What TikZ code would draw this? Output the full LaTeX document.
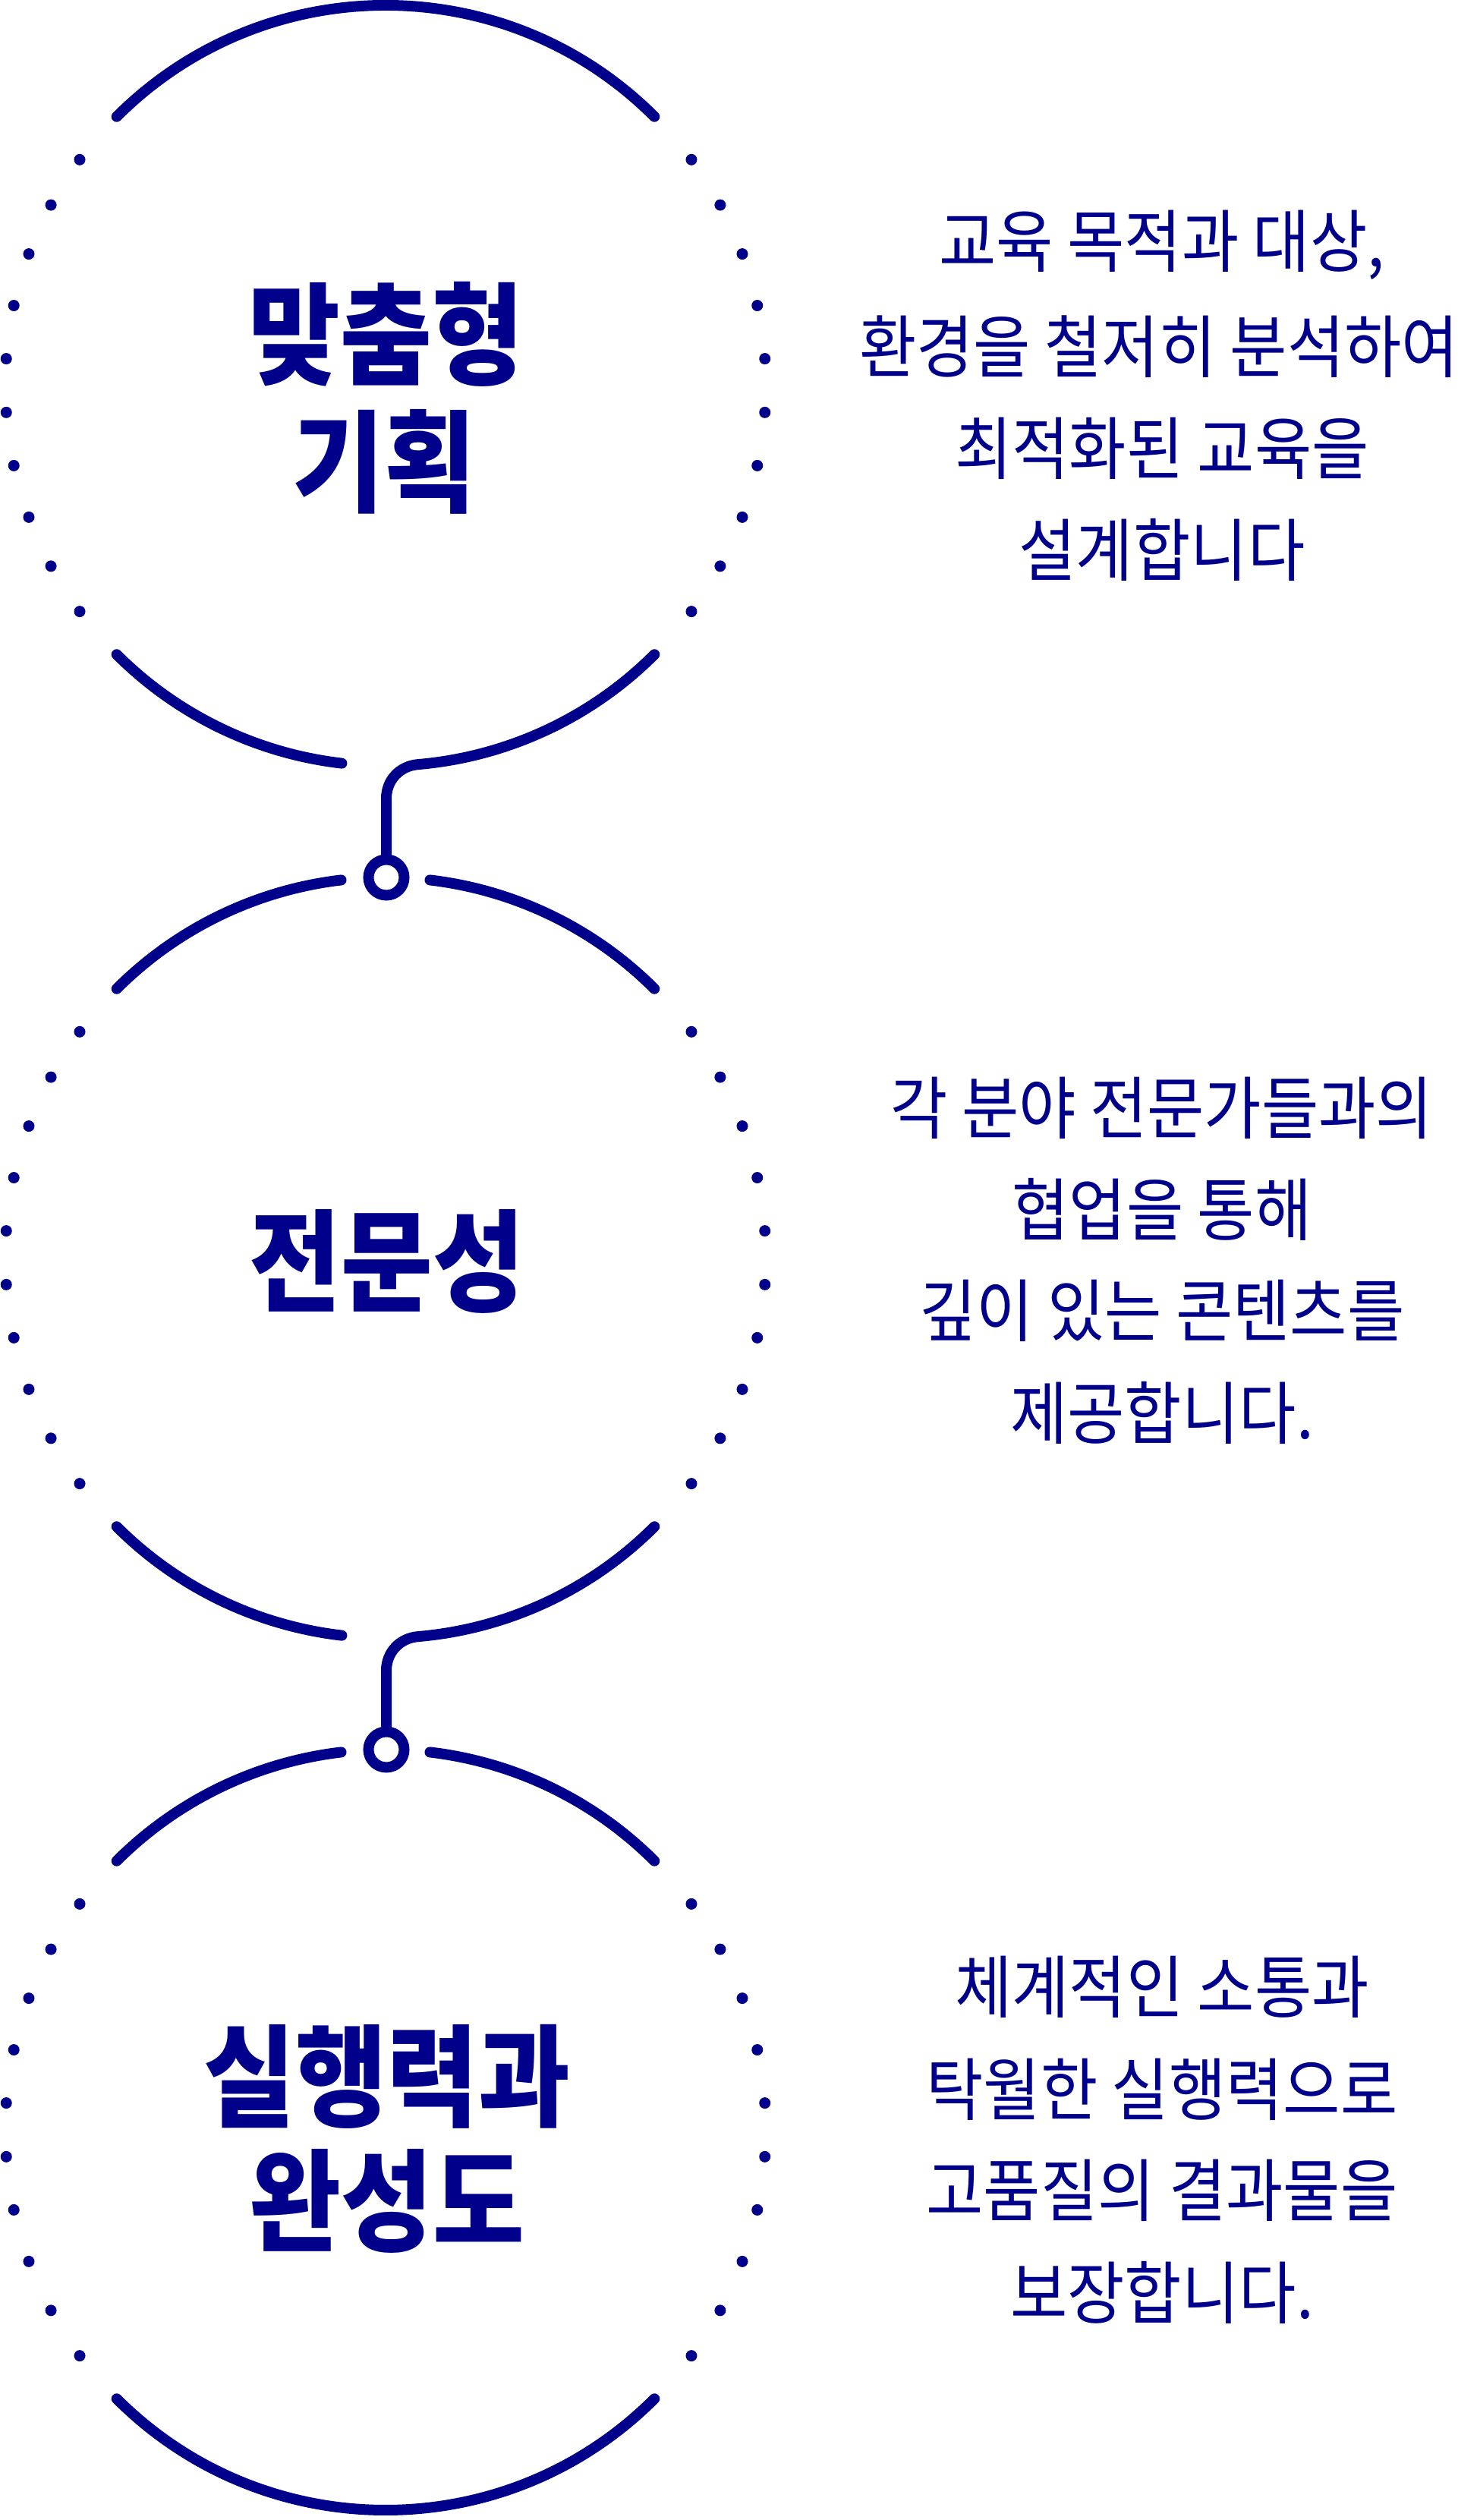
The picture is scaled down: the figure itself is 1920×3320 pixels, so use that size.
\documentclass[tikz,border=0pt]{standalone}
\usepackage{fontspec}
\usetikzlibrary{calc}
\newfontfamily\titlefont{Noto Sans CJK KR}[FakeStretch=0.90]
\newfontfamily\descfont{Noto Sans CJK KR}[FakeStretch=0.91]
\definecolor{navy}{HTML}{00008B}
\begin{document}
\begin{tikzpicture}[x=1pt,y=1pt,
  arcline/.style={draw=navy, line width=14pt, line cap=round},
  dotmark/.style={fill=navy},
  ringnode/.style={circle, draw=navy, line width=14pt, minimum size=47pt, inner sep=0pt},
  titletext/.style={text=navy, inner sep=0pt, anchor=center, font=\titlefont\bfseries\fontsize{146}{150}\selectfont},
  desctext/.style={text=navy, inner sep=0pt, anchor=center, font=\descfont\fontsize{90}{100}\selectfont}]
\fill[white] (0,0) rectangle (1920,3320);
\useasboundingbox (0,0) rectangle (1920,3320);
\coordinate (c1) at (508,2812);
\coordinate (c2) at (508,1663);
\coordinate (c3) at (508,514);
\node[ringnode] (r1) at (509,2164) {};
\node[ringnode] (r2) at (509,1015) {};
% dots
\foreach \c in {c1,c2,c3}{
  \foreach \a in {4.05,12.15,20.25,28.35,36.45}{
    \fill[dotmark] (\c) ++(\a:501) circle[radius=7.5];
    \fill[dotmark] (\c) ++(-\a:501) circle[radius=7.5];
    \fill[dotmark] (\c) ++(180+\a:501) circle[radius=7.5];
    \fill[dotmark] (\c) ++(180-\a:501) circle[radius=7.5];
  }
}
% circle 1 top
\draw[arcline] (c1) ++(45:501) arc[start angle=45, end angle=135, radius=501];
% circles 2,3 top
\foreach \c in {c2,c3}{
  \draw[arcline] (\c) ++(135:501) arc[start angle=135, end angle=96.7, radius=501];
  \draw[arcline] (\c) ++(83.3:501) arc[start angle=83.3, end angle=45, radius=501];
}
% bottoms with connectors
\coordinate (k1) at ($(c1)+(1,-544)$);
\coordinate (k2) at ($(c2)+(1,-544)$);
\draw[arcline] (c1) ++(225:501) arc[start angle=225, end angle=263.4, radius=501];
\draw[arcline] (c1) ++(315:501) arc[start angle=315, end angle=274.85, radius=501]
   .. controls +(-24,-2.2) and +(0,24) .. (k1) -- (r1.north);
\draw[arcline] (c2) ++(225:501) arc[start angle=225, end angle=263.4, radius=501];
\draw[arcline] (c2) ++(315:501) arc[start angle=315, end angle=274.85, radius=501]
   .. controls +(-24,-2.2) and +(0,24) .. (k2) -- (r2.north);
\draw[arcline] (c3) ++(225:501) arc[start angle=225, end angle=315, radius=501];
% titles
\node[titletext] (t1a) at (509,2880) {맞춤형};
\node[titletext] (t1b) at (506,2712) {기획};
\node[titletext] (t2) at (510,1658) {전문성};
\node[titletext] (t3a) at (510,584) {실행력과};
\node[titletext] (t3b) at (510,420) {완성도};
% descriptions
\node[desctext] (d1a) at (1531,2997) {교육 목적과 대상,};
\node[desctext, anchor=west] (d1b) at (1132,2863) {환경을 철저히 분석하여};
\node[desctext] (d1c) at (1531,2729) {최적화된 교육을};
\node[desctext] (d1d) at (1531,2595) {설계합니다};
\node[desctext] (d2a) at (1531,1860) {각 분야 전문가들과의};
\node[desctext] (d2b) at (1531,1727) {협업을 통해};
\node[desctext] (d2c) at (1531,1593) {깊이 있는 콘텐츠를};
\node[desctext] (d2d) at (1531,1459) {제공합니다.};
\node[desctext] (d3a) at (1531,702) {체계적인 소통과};
\node[desctext] (d3b) at (1531,567) {탁월한 실행력으로};
\node[desctext] (d3c) at (1531,434) {고품질의 결과물을};
\node[desctext] (d3d) at (1531,300) {보장합니다.};
\end{tikzpicture}
\end{document}
